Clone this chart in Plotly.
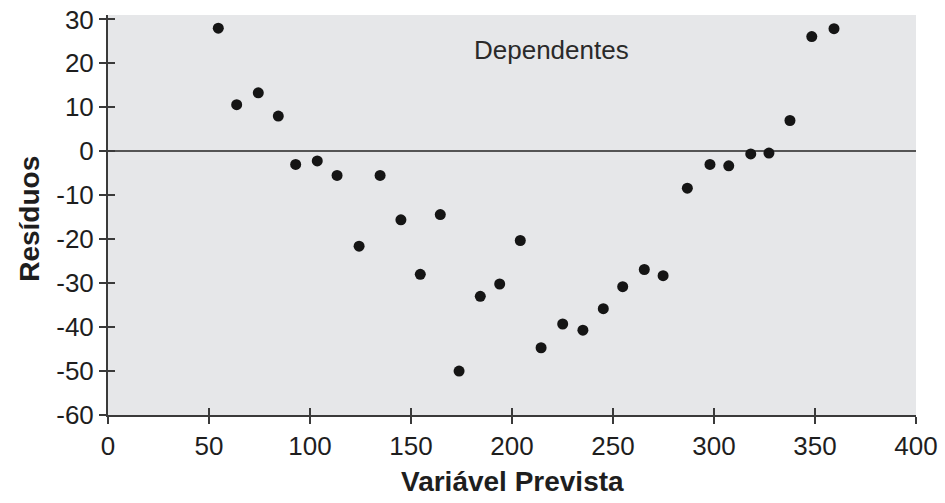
import plotly.graph_objects as go

# Data
predicted = [54.6, 63.7, 74.4, 84.3, 92.9, 103.6, 113.4, 124.3, 134.7, 145.0,
             154.6, 164.5, 173.8, 184.3, 193.9, 204.1, 214.4, 225.1, 235.1, 245.2,
             254.8, 265.5, 274.8, 286.8, 298.0, 307.3, 318.2, 327.2, 337.6, 348.4,
             359.4]
residuals = [28.0, 10.6, 13.3, 8.0, -3.0, -2.2, -5.5, -21.6, -5.5, -15.6,
             -28.0, -14.4, -50.0, -33.0, -30.2, -20.3, -44.7, -39.3, -40.7, -35.8,
             -30.8, -26.9, -28.3, -8.4, -3.0, -3.3, -0.6, -0.4, 7.0, 26.1,
             27.9]
x_ticks = [0, 50, 100, 150, 200, 250, 300, 350, 400]
x_tick_labels = ["0", "50", "100", "150", "200", "250", "300", "350", "400"]
y_ticks = [30, 20, 10, 0, -10, -20, -30, -40, -50, -60]
y_tick_labels = ["30", "20", "10", "0", "-10", "-20", "-30", "-40", "-50", "-60"]
x_title = "Variável Prevista"
y_title = "Resíduos"
label_text = "Dependentes"

X_RANGE = [0, 400]
Y_RANGE = [-60, 31]
AX = "#3a3a3a"
TXT = "#1e1e1e"
FONT = "Liberation Sans, Arial, sans-serif"

fig = go.Figure()
fig.add_trace(go.Scatter(
    x=predicted, y=residuals, mode="markers",
    marker=dict(size=11, color="#151515"),
    showlegend=False,
))
# invisible trace to activate the overlay axes (inner half of crossing ticks)
fig.add_trace(go.Scatter(x=[None], y=[None], xaxis="x2", yaxis="y2",
                         showlegend=False, hoverinfo="skip"))

fig.add_annotation(x=180, y=23, xref="x", yref="y", text=label_text,
                   showarrow=False, xanchor="left", yanchor="middle",
                   font=dict(family=FONT, size=26, color="#2a2a2a"))

# axis titles
fig.add_annotation(x=0.5, y=-0.165, xref="paper", yref="paper", text=x_title,
                   showarrow=False, xanchor="center", yanchor="middle",
                   font=dict(family=FONT, size=28, color=TXT, weight="bold"))
fig.add_annotation(x=-0.098, y=0.49, xref="paper", yref="paper", text=y_title,
                   showarrow=False, xanchor="center", yanchor="middle", textangle=-90,
                   font=dict(family=FONT, size=28, color=TXT, weight="bold"))

fig.update_layout(
    width=945, height=503,
    margin=dict(l=108, r=29, t=15, b=88),
    paper_bgcolor="white",
    plot_bgcolor="#e6e7e9",
    font=dict(family=FONT, size=26, color=TXT),
    xaxis=dict(
        range=X_RANGE, tickvals=x_ticks, ticktext=x_tick_labels,
        ticks="outside", ticklen=7, automargin=False, ticklabeloverflow="allow",
        tickwidth=1.5, tickcolor=AX, showline=True, linecolor=AX, linewidth=2,
        showgrid=False, zeroline=False,
    ),
    yaxis=dict(
        range=Y_RANGE, tickvals=y_ticks, ticktext=y_tick_labels,
        ticks="outside", ticklen=7, automargin=False, ticklabeloverflow="allow",
        tickwidth=1.5, tickcolor=AX, showline=True, linecolor=AX, linewidth=2,
        showgrid=False, zeroline=True, zerolinecolor="#555555", zerolinewidth=2,
    ),
    xaxis2=dict(
        range=X_RANGE, tickvals=x_ticks, ticks="inside", ticklen=7,
        tickwidth=1.5, tickcolor=AX, showticklabels=False, showline=False,
        showgrid=False, zeroline=False, overlaying="x", anchor="y2", side="bottom",
    ),
    yaxis2=dict(
        range=Y_RANGE, tickvals=y_ticks, ticks="inside", ticklen=7,
        tickwidth=1.5, tickcolor=AX, showticklabels=False, showline=False,
        showgrid=False, zeroline=False, overlaying="y", anchor="x2", side="left",
    ),
)

# remove the browser's default 8px body margin so the figure fills the window
fig.write_html("out.html",
               config={"displayModeBar": False},
               post_script="document.body.style.margin='0';document.body.style.overflow='hidden';")
